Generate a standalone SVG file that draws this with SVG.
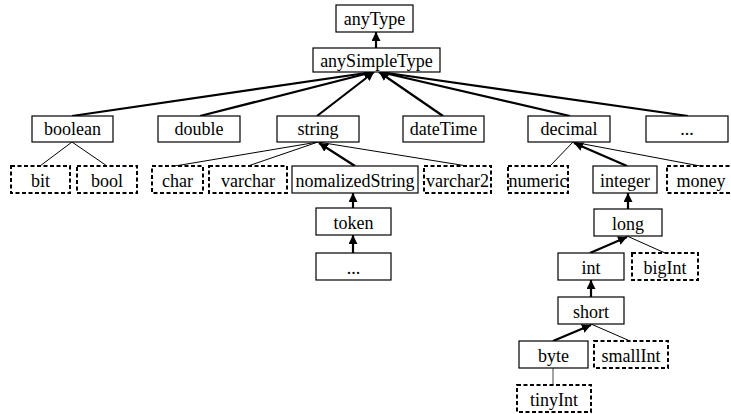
<svg xmlns="http://www.w3.org/2000/svg" width="731" height="414" viewBox="0 0 731 414">
<style>
.n rect{fill:#fff;stroke:#000;stroke-width:1.2}
.d rect{fill:#fff;stroke:#000;stroke-width:2;stroke-dasharray:4 2.5}
text{font-family:'Liberation Serif','Times New Roman',serif;font-size:18px;fill:#000;text-anchor:middle}
.thick{stroke:#000;stroke-width:2.2;fill:none}
.thin{stroke:#000;stroke-width:1;fill:none}
.gray{stroke:#666;stroke-width:1.2;fill:none}
</style>
<defs>
<marker id="ah" markerUnits="userSpaceOnUse" viewBox="0 0 10 10" markerWidth="9" markerHeight="9" refX="10" refY="5" orient="auto">
<path d="M0,0 L10,5 L0,10 z" fill="#000"/>
</marker>
</defs>
<g id="connectors">
<line class="thick" x1="376" y1="48" x2="376" y2="32" marker-end="url(#ah)"/>
<line class="thick" x1="72" y1="116" x2="373" y2="72" marker-end="url(#ah)"/>
<line class="thick" x1="200" y1="116" x2="373" y2="72" marker-end="url(#ah)"/>
<line class="thick" x1="317" y1="116" x2="374" y2="72" marker-end="url(#ah)"/>
<line class="thick" x1="443" y1="116" x2="379" y2="72" marker-end="url(#ah)"/>
<line class="thick" x1="570" y1="116" x2="380" y2="72" marker-end="url(#ah)"/>
<line class="thick" x1="688" y1="116" x2="380" y2="72" marker-end="url(#ah)"/>
<line class="thin" x1="72" y1="142" x2="40" y2="166"/>
<line class="thin" x1="72" y1="142" x2="107" y2="166"/>
<line class="thin" x1="318" y1="142" x2="175" y2="166"/>
<line class="thin" x1="318" y1="142" x2="248" y2="166"/>
<line class="thin" x1="318" y1="142" x2="467" y2="166"/>
<line class="thick" x1="355" y1="166" x2="319" y2="143" marker-end="url(#ah)"/>
<line class="thick" x1="353" y1="208" x2="353" y2="193" marker-end="url(#ah)"/>
<line class="thick" x1="353" y1="253" x2="353" y2="235" marker-end="url(#ah)"/>
<line class="thin" x1="573" y1="142" x2="550" y2="166"/>
<line class="thin" x1="573" y1="142" x2="700" y2="166"/>
<line class="thick" x1="627" y1="166" x2="574" y2="143" marker-end="url(#ah)"/>
<line class="thick" x1="628" y1="209" x2="628" y2="193" marker-end="url(#ah)"/>
<line class="thin" x1="627" y1="236" x2="665" y2="253"/>
<line class="thick" x1="590" y1="253" x2="627" y2="237" marker-end="url(#ah)"/>
<line class="thick" x1="591" y1="297" x2="591" y2="280" marker-end="url(#ah)"/>
<line class="thin" x1="591" y1="324" x2="630" y2="341"/>
<line class="thick" x1="553" y1="341" x2="591" y2="325" marker-end="url(#ah)"/>
<line class="gray" x1="553" y1="368" x2="553" y2="385"/>
</g>
<g id="anyType" class="n"><rect x="336" y="5" width="77" height="27"/><text x="374.5" y="25">anyType</text></g>
<g id="anySimpleType" class="n"><rect x="313" y="48" width="127" height="24"/><text x="376.5" y="67">anySimpleType</text></g>
<g id="boolean" class="n"><rect x="32" y="116" width="81" height="26"/><text x="72.5" y="135">boolean</text></g>
<g id="double" class="n"><rect x="158" y="116" width="82" height="26"/><text x="199" y="135">double</text></g>
<g id="string" class="n"><rect x="277" y="116" width="82" height="26"/><text x="318" y="135">string</text></g>
<g id="dateTime" class="n"><rect x="403" y="116" width="81" height="26"/><text x="443.5" y="135">dateTime</text></g>
<g id="decimal" class="n"><rect x="528" y="116" width="82" height="26"/><text x="569" y="135">decimal</text></g>
<g id="more1" class="n"><rect x="646" y="116" width="82" height="26"/><text x="687" y="135">...</text></g>
<g id="bit" class="d"><rect x="11" y="166" width="59" height="27"/><text x="40.5" y="187">bit</text></g>
<g id="bool" class="d"><rect x="77" y="166" width="60" height="27"/><text x="107" y="187">bool</text></g>
<g id="char" class="d"><rect x="152" y="166" width="51" height="27"/><text x="177.5" y="187">char</text></g>
<g id="varchar" class="d"><rect x="209" y="166" width="78" height="27"/><text x="248" y="187">varchar</text></g>
<g id="nomalizedString" class="n"><rect x="292" y="166" width="126" height="27"/><text x="355" y="187">nomalizedString</text></g>
<g id="varchar2" class="d"><rect x="424" y="166" width="67" height="27"/><text x="457.5" y="187" textLength="63" lengthAdjust="spacingAndGlyphs">varchar2</text></g>
<g id="numeric" class="d"><rect x="508" y="166" width="60" height="27"/><text x="538" y="187">numeric</text></g>
<g id="integer" class="n"><rect x="593" y="166" width="64" height="27"/><text x="625" y="187">integer</text></g>
<g id="money" class="d"><rect x="667" y="166" width="70" height="27"/><text x="701" y="187">money</text></g>
<g id="token" class="n"><rect x="316" y="208" width="75" height="27"/><text x="353.5" y="229">token</text></g>
<g id="more2" class="n"><rect x="316" y="253" width="75" height="27"/><text x="353.5" y="274">...</text></g>
<g id="long" class="n"><rect x="594" y="209" width="68" height="27"/><text x="628" y="230">long</text></g>
<g id="int" class="n"><rect x="558" y="253" width="66" height="27"/><text x="591" y="274">int</text></g>
<g id="bigInt" class="d"><rect x="632" y="253" width="66" height="27"/><text x="665" y="274">bigInt</text></g>
<g id="short" class="n"><rect x="558" y="297" width="66" height="27"/><text x="591" y="318">short</text></g>
<g id="byte" class="n"><rect x="519" y="341" width="69" height="27"/><text x="553.5" y="362">byte</text></g>
<g id="smallInt" class="d"><rect x="594" y="341" width="74" height="27"/><text x="631" y="362">smallInt</text></g>
<g id="tinyInt" class="d"><rect x="517" y="385" width="74" height="27"/><text x="554" y="406">tinyInt</text></g>
</svg>
